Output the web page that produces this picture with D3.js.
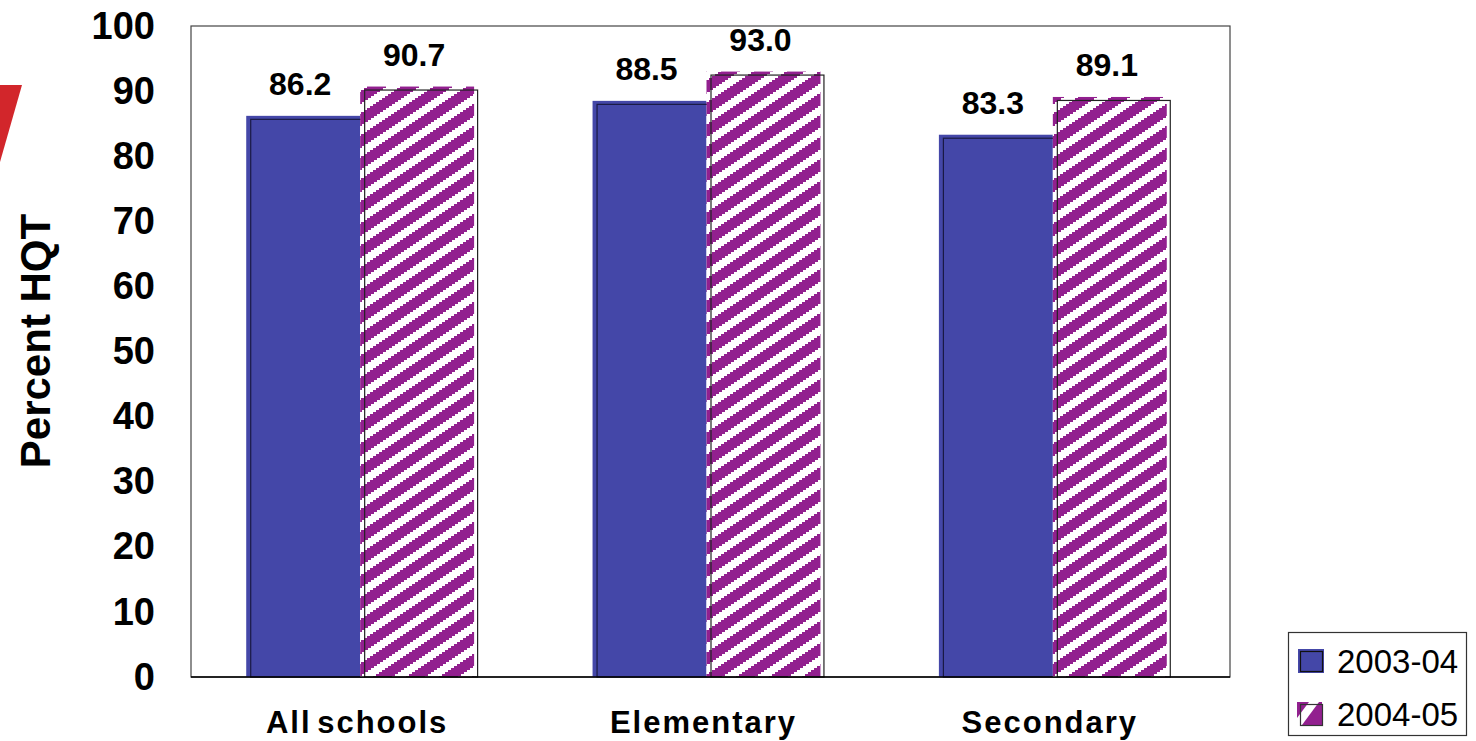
<!DOCTYPE html>
<html>
<head>
<meta charset="utf-8">
<script src="https://cdn.jsdelivr.net/npm/d3@7"></script>
<style>
  body { margin: 0; background: #fff; }
  svg { display: block; }
  text { font-family: "Liberation Sans", Arial, Helvetica, sans-serif; fill: #000; }
</style>
</head>
<body>
<svg id="chart" width="1476" height="741"></svg>
<script>
// Share of highly qualified teachers by school level
const categories = ["All schools", "Elementary", "Secondary"];
const seriesNames = ["2003-04", "2004-05"];
const values2003 = [86.2, 88.5, 83.3];
const values2004 = [90.7, 93.0, 89.1];
const yTicks = [0, 10, 20, 30, 40, 50, 60, 70, 80, 90, 100];
const yTitle = "Percent HQT";

const BLUE = "#4447a8";
const PURPLE = "#92208f";

const svg = d3.select("#chart");
const plot = { left: 191, right: 1230, top: 26, bottom: 677 };

// decorative accent on the left edge
svg.append("polygon")
  .attr("points", "0,85 22,85 0,162")
  .attr("fill", "#d2262b");

// diagonal stair-step stripe fill for the second series
const TW = 33, TH = 22, WHITE_RUN = 14;
const defs = svg.append("defs");
const pat = defs.append("pattern")
  .attr("id", "stripes")
  .attr("patternUnits", "userSpaceOnUse")
  .attr("width", TW).attr("height", TH);
pat.append("rect").attr("width", TW).attr("height", TH).attr("fill", PURPLE);
for (let r = 0; r < TH; r++) {
  const shift = 3 * Math.floor(r / 2);
  const x0 = ((20 - shift) % TW + TW) % TW;
  [x0 - TW, x0].forEach(x => {
    pat.append("rect")
      .attr("x", x).attr("y", r).attr("width", WHITE_RUN).attr("height", 1)
      .attr("fill", "#fff").attr("shape-rendering", "crispEdges");
  });
}

const x = d3.scaleBand()
  .domain(categories)
  .range([plot.left, plot.right])
  .paddingInner(0.342)
  .paddingOuter(0.171);
const xs = d3.scaleBand()
  .domain(seriesNames)
  .range([0, x.bandwidth()]);
const y = d3.scaleLinear().domain([0, 100]).range([plot.bottom, plot.top]);

// plot frame
svg.append("rect")
  .attr("x", plot.left).attr("y", plot.top)
  .attr("width", plot.right - plot.left).attr("height", plot.bottom - plot.top)
  .attr("fill", "#fff").attr("stroke", "#444").attr("stroke-width", 1.2);

// y axis labels
const yAxis = d3.axisLeft(y).tickValues(yTicks).tickSize(0).tickPadding(0);
const gy = svg.append("g").attr("transform", "translate(155,0)").call(yAxis);
gy.select(".domain").remove();
gy.selectAll("text")
  .attr("font-size", 38).attr("font-weight", "bold")
  .attr("font-family", "'Liberation Sans', Arial, sans-serif")
  .attr("fill", "#000");

svg.append("text")
  .attr("transform", "translate(50,341) rotate(-90)")
  .attr("text-anchor", "middle")
  .attr("font-size", 42).attr("font-weight", "bold")
  .text(yTitle);

// bars: offset fill with a dark outline behind it, like a shallow 3D bar
const series = [
  { name: seriesNames[0], values: values2003, fill: BLUE, stroke: "#1a1a44" },
  { name: seriesNames[1], values: values2004, fill: "url(#stripes)", stroke: "#222" }
];
const dx = 4, dy = 3;
series.forEach(s => {
  const g = svg.append("g");
  categories.forEach((c, i) => {
    const v = s.values[i];
    const bx = x(c) + xs(s.name);
    const bw = xs.bandwidth();
    g.append("rect")
      .attr("x", bx - dx).attr("y", y(v))
      .attr("width", bw).attr("height", y(0) - y(v))
      .attr("fill", s.fill);
    g.append("rect")
      .attr("x", bx + 0.5).attr("y", y(v) + dy + 0.5)
      .attr("width", bw - 1).attr("height", y(0) - y(v) - dy - 0.5)
      .attr("fill", "none").attr("stroke", s.stroke).attr("stroke-width", 1.2);
    svg.append("text")
      .attr("x", bx - dx + bw / 2 - 3)
      .attr("y", y(v) - 21)
      .attr("text-anchor", "middle")
      .attr("font-size", 32).attr("font-weight", "bold")
      .text(v.toFixed(1));
  });
});

// baseline
svg.append("line")
  .attr("x1", plot.left).attr("x2", plot.right)
  .attr("y1", y(0)).attr("y2", y(0))
  .attr("stroke", "#000").attr("stroke-width", 1.5);

// category labels
categories.forEach(c => {
  svg.append("text")
    .attr("x", x(c) + x.bandwidth() / 2 - 7)
    .attr("y", 733)
    .attr("text-anchor", "middle")
    .attr("font-size", 31).attr("font-weight", "bold")
    .attr("letter-spacing", "2px").attr("word-spacing", "-5px")
    .text(c);
});

// legend
const lg = svg.append("g");
lg.append("rect")
  .attr("x", 1288.5).attr("y", 632.5).attr("width", 178).attr("height", 103)
  .attr("fill", "#fff").attr("stroke", "#333").attr("stroke-width", 1.2);
lg.append("rect")
  .attr("x", 1298).attr("y", 649).attr("width", 26).attr("height", 24)
  .attr("fill", BLUE);
lg.append("rect")
  .attr("x", 1300.5).attr("y", 651.5).attr("width", 22).attr("height", 20)
  .attr("fill", "none").attr("stroke", "#111").attr("stroke-width", 1.2);
lg.append("rect")
  .attr("x", 1297).attr("y", 702).attr("width", 25).attr("height", 23)
  .attr("fill", PURPLE);
lg.append("polygon")
  .attr("points", "1297,718 1309,702 1319,702 1302,725 1297,725")
  .attr("fill", "#fff");
lg.append("rect")
  .attr("x", 1300.5).attr("y", 704.5).attr("width", 22).attr("height", 21)
  .attr("fill", "none").attr("stroke", "#333").attr("stroke-width", 1.2);
seriesNames.forEach((n, i) => {
  lg.append("text")
    .attr("x", 1337).attr("y", 673 + i * 53)
    .attr("font-size", 33)
    .text(n);
});
</script>
</body>
</html>
